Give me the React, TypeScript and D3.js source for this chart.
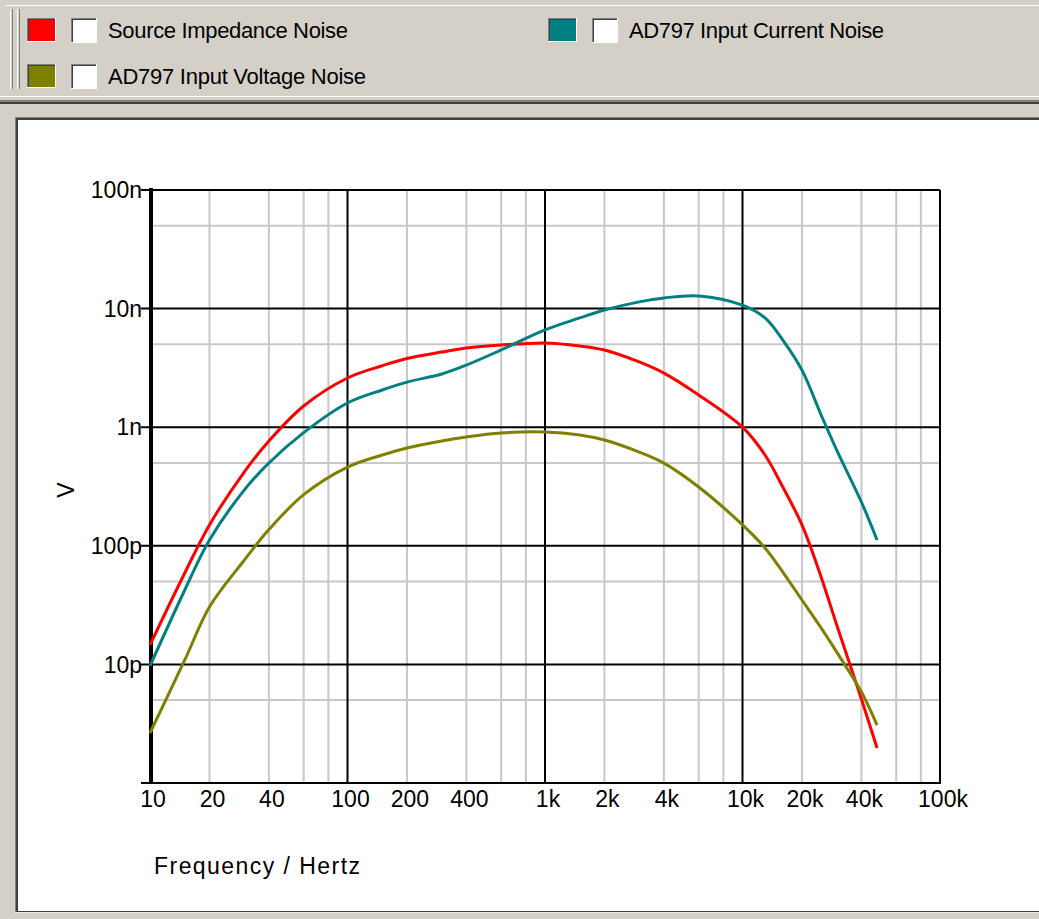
import React, { useEffect, useRef } from "react";
import * as d3 from "d3";

// frequencies in Hz, noise in nV
const freqs = [10, 15, 20, 30, 40, 60, 100, 150, 200, 300, 400, 600, 1000, 1500, 2000, 3000, 4000, 6000, 10000, 13000, 16000, 20000, 25000, 30000, 40000, 48000];
const sourceImpedance = [0.0146, 0.059, 0.15, 0.419, 0.765, 1.51, 2.6, 3.3, 3.8, 4.3, 4.65, 4.93, 5.13, 4.84, 4.48, 3.55, 2.86, 1.87, 1.0, 0.583, 0.313, 0.15, 0.0546, 0.0215, 0.0051, 0.00197];
const inputVoltage = [0.00264, 0.0109, 0.0305, 0.0755, 0.137, 0.27, 0.461, 0.583, 0.668, 0.766, 0.827, 0.893, 0.912, 0.861, 0.78, 0.617, 0.498, 0.313, 0.15, 0.0958, 0.0601, 0.0349, 0.0203, 0.0127, 0.00585, 0.00308];
const inputCurrent = [0.0097, 0.0424, 0.112, 0.295, 0.499, 0.9, 1.6, 2.06, 2.4, 2.81, 3.34, 4.48, 6.61, 8.34, 9.73, 11.4, 12.3, 12.8, 10.7, 8.34, 5.43, 3.03, 1.27, 0.64, 0.234, 0.112];

const seriesNames = ["Source Impedance Noise", "AD797 Input Voltage Noise", "AD797 Input Current Noise"];
const seriesColors = ["#ff0000", "#808000", "#008080"];

const xTicks = [10, 20, 40, 100, 200, 400, 1000, 2000, 4000, 10000, 20000, 40000, 100000];
const xTickLabels = ["10", "20", "40", "100", "200", "400", "1k", "2k", "4k", "10k", "20k", "40k", "100k"];
const yTicks = [1e-7, 1e-8, 1e-9, 1e-10, 1e-11];
const yTickLabels = ["100n", "10n", "1n", "100p", "10p"];

const FONT = "'Liberation Sans', Arial, sans-serif";

export default function App() {
  const ref = useRef<SVGSVGElement>(null);

  useEffect(() => {
    const svg = d3.select(ref.current);
    svg.selectAll("*").remove();

    const W = 1039, H = 919;
    const left = 150, right = 940, top = 190, bottom = 783;

    const x = d3.scaleLog().domain([10, 1e5]).range([left, right]);
    const y = d3.scaleLog().domain([1e-12, 1e-7]).range([bottom, top]);

    // window chrome
    svg.append("rect").attr("width", W).attr("height", H).attr("fill", "#d4d0c8");
    svg.append("line").attr("x1", 5).attr("x2", W).attr("y1", 5.5).attr("y2", 5.5).attr("stroke", "#fff");
    [10, 17].forEach(gx => {
      svg.append("line").attr("x1", gx + 0.5).attr("x2", gx + 0.5).attr("y1", 9).attr("y2", 89).attr("stroke", "#fff");
      svg.append("line").attr("x1", gx + 2.5).attr("x2", gx + 2.5).attr("y1", 9).attr("y2", 89).attr("stroke", "#808080");
    });
    svg.append("line").attr("x1", 0).attr("x2", W).attr("y1", 96.5).attr("y2", 96.5).attr("stroke", "#fff");
    svg.append("rect").attr("x", 0).attr("y", 100).attr("width", W).attr("height", 2).attr("fill", "#808080");
    svg.append("rect").attr("x", 0).attr("y", 102).attr("width", W).attr("height", 2).attr("fill", "#404040");

    // plot panel
    svg.append("rect").attr("x", 15).attr("y", 117).attr("width", W - 15).attr("height", 795).attr("fill", "#808080");
    svg.append("rect").attr("x", 16).attr("y", 118).attr("width", W - 16).attr("height", 794).attr("fill", "#404040");
    svg.append("rect").attr("x", 18).attr("y", 120).attr("width", W - 18).attr("height", 791).attr("fill", "#fff");
    svg.append("line").attr("x1", 15).attr("x2", W).attr("y1", 912.5).attr("y2", 912.5).attr("stroke", "#ece9e2");

    // legend
    const legendPos = [[27, 18], [27, 64], [548, 18]];
    legendPos.forEach(([lx, ly], i) => {
      const g = svg.append("g").attr("transform", `translate(${lx},${ly})`);
      g.append("rect").attr("width", 29).attr("height", 24).attr("fill", "#fff");
      g.append("rect").attr("width", 28).attr("height", 23).attr("fill", "#808080");
      g.append("rect").attr("x", 1).attr("y", 1).attr("width", 27).attr("height", 22).attr("fill", "#404040");
      g.append("rect").attr("x", 2).attr("y", 2).attr("width", 26).attr("height", 21).attr("fill", seriesColors[i]);
      g.append("rect").attr("x", 44).attr("width", 26).attr("height", 25).attr("fill", "#fff");
      g.append("rect").attr("x", 44).attr("width", 25).attr("height", 24).attr("fill", "#808080");
      g.append("rect").attr("x", 45).attr("y", 1).attr("width", 24).attr("height", 23).attr("fill", "#404040");
      g.append("rect").attr("x", 46).attr("y", 2).attr("width", 23).attr("height", 22).attr("fill", "#fff");
      g.append("text")
        .attr("x", 81).attr("y", 20)
        .attr("font-family", FONT).attr("font-size", 22).attr("fill", "#000")
        .attr("textLength", i === 0 ? 240 : i === 1 ? 258 : 255)
        .text(seriesNames[i]);
    });

    // minor grid
    const minorX: number[] = [];
    [10, 100, 1000, 10000].forEach(d => [2, 4, 6, 8].forEach(m => minorX.push(d * m)));
    const minorY = [5e-12, 5e-11, 5e-10, 5e-9, 5e-8];
    svg.append("g").selectAll("line").data(minorX).join("line")
      .attr("x1", d => x(d)).attr("x2", d => x(d)).attr("y1", top).attr("y2", bottom)
      .attr("stroke", "#c8c8c8").attr("stroke-width", 2);
    svg.append("g").selectAll("line").data(minorY).join("line")
      .attr("x1", left).attr("x2", right).attr("y1", d => y(d)).attr("y2", d => y(d))
      .attr("stroke", "#c8c8c8").attr("stroke-width", 2);

    // major grid
    svg.append("g").selectAll("line").data([100, 1000, 10000, 100000]).join("line")
      .attr("x1", d => x(d)).attr("x2", d => x(d)).attr("y1", top).attr("y2", bottom)
      .attr("stroke", "#000").attr("stroke-width", 2);
    svg.append("g").selectAll("line").data(yTicks).join("line")
      .attr("x1", left - 9).attr("x2", right).attr("y1", d => y(d)).attr("y2", d => y(d))
      .attr("stroke", "#000").attr("stroke-width", 2);

    // axes
    svg.append("line").attr("x1", left - 9).attr("x2", right + 1).attr("y1", bottom).attr("y2", bottom)
      .attr("stroke", "#000").attr("stroke-width", 2);
    svg.append("line").attr("x1", left + 1).attr("x2", left + 1).attr("y1", top - 2).attr("y2", bottom + 1)
      .attr("stroke", "#000").attr("stroke-width", 4);

    // tick labels
    svg.append("g").selectAll("text").data(yTicks).join("text")
      .attr("x", left - 8).attr("y", d => y(d)).attr("dy", "0.36em")
      .attr("text-anchor", "end").attr("font-family", FONT).attr("font-size", 23).attr("fill", "#000")
      .text((d, i) => yTickLabels[i]);
    svg.append("g").selectAll("text").data(xTicks).join("text")
      .attr("x", d => x(d) + 3).attr("y", 807)
      .attr("text-anchor", "middle").attr("font-family", FONT).attr("font-size", 23).attr("fill", "#000")
      .text((d, i) => xTickLabels[i]);

    svg.append("text")
      .attr("x", 154).attr("y", 874)
      .attr("font-family", FONT).attr("font-size", 23).attr("fill", "#000")
      .attr("textLength", 206)
      .text("Frequency / Hertz");
    svg.append("text")
      .attr("transform", "translate(66,490) rotate(-90)")
      .attr("text-anchor", "middle").attr("dy", "0.36em")
      .attr("font-family", FONT).attr("font-size", 23).attr("fill", "#000")
      .text("V");

    // curves
    const line = d3.line<number>()
      .x((d, i) => x(freqs[i]))
      .y(d => y(d * 1e-9))
      .curve(d3.curveCatmullRom.alpha(0.5));
    [sourceImpedance, inputVoltage, inputCurrent].forEach((s, i) => {
      svg.append("path").datum(s)
        .attr("d", line)
        .attr("fill", "none")
        .attr("stroke", seriesColors[i])
        .attr("stroke-width", 3);
    });
  }, []);

  return <svg ref={ref} width={1039} height={919} style={{ position: "absolute", left: 0, top: 0 }}></svg>;
}
